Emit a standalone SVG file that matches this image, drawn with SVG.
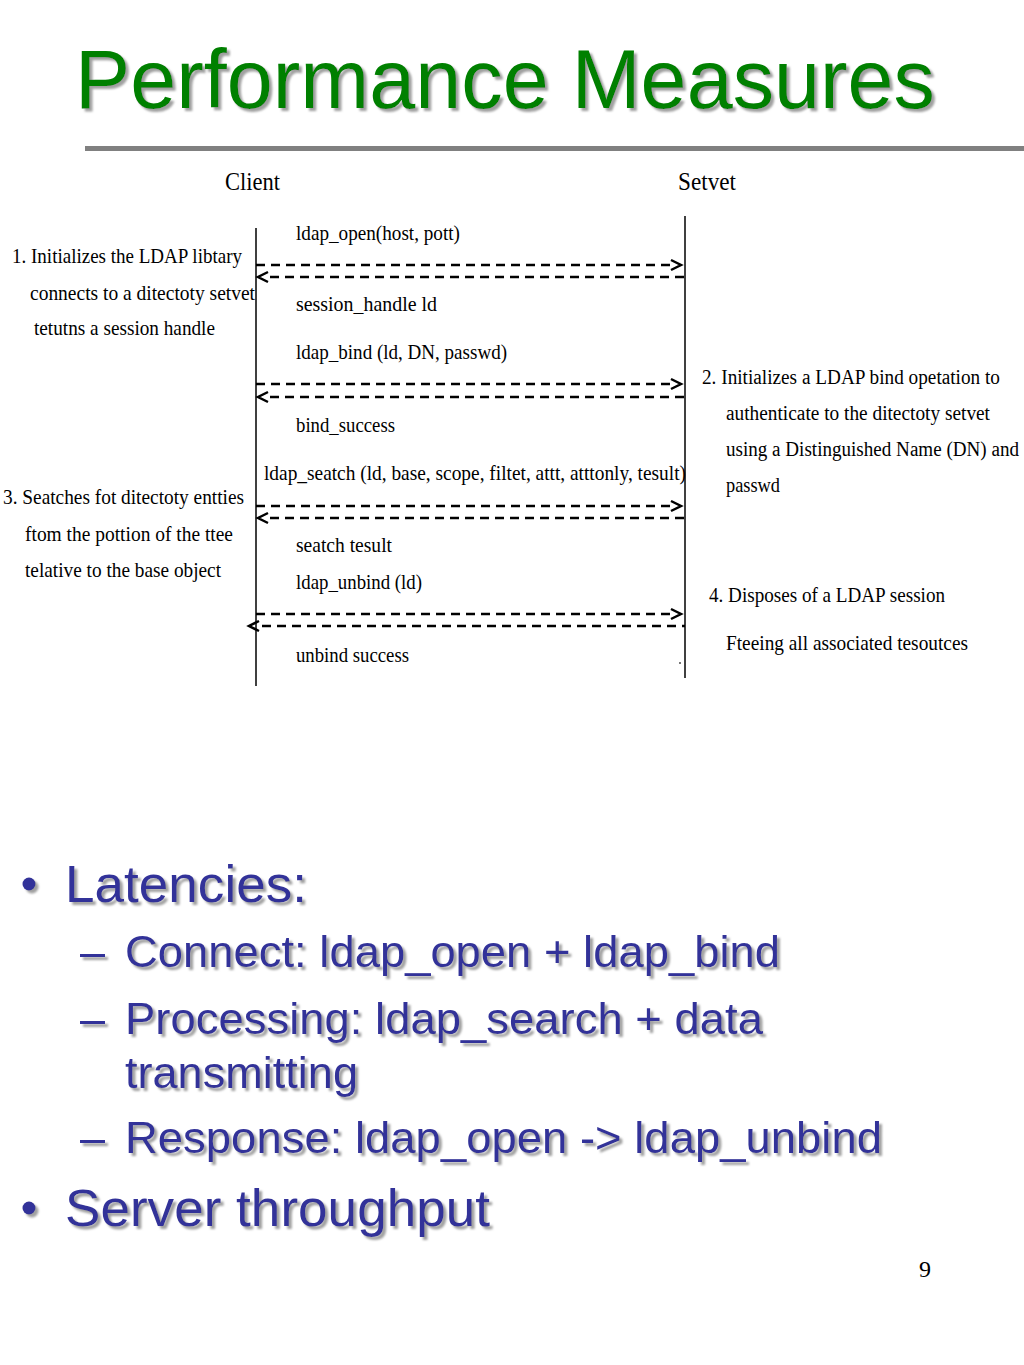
<svg xmlns="http://www.w3.org/2000/svg" width="1024" height="1365" viewBox="0 0 1024 1365">
<defs>
<filter id="sh" x="-5%" y="-20%" width="110%" height="140%">
<feDropShadow dx="3" dy="3" stdDeviation="0.8" flood-color="#a0a0a0" flood-opacity="1"/>
</filter>
</defs>
<style>
.title{font-family:"Liberation Sans",Arial,sans-serif;font-size:84px;fill:#008000}
.body{font-family:"Liberation Sans",Arial,sans-serif;fill:#333399}
.b1{font-size:52px}
.b2{font-size:45px}
.d{font-family:"Liberation Serif","Times New Roman",serif;font-size:22px;fill:#000}
.d.s{font-size:18px}
.d.xs{font-size:15px}
.d.h{font-size:25px}
.life{stroke:#000;stroke-width:1.5;fill:none}
.msg{stroke:#000;stroke-width:2.5;stroke-dasharray:9 6;fill:none}
.ah{stroke:#000;stroke-width:2.5;fill:none}
.pg{font-family:"Liberation Serif","Times New Roman",serif;font-size:24px;fill:#000}
</style>
<rect width="1024" height="1365" fill="#fff"/>
<g id="title" filter="url(#sh)">
<text class="title" x="75" y="108" textLength="860" lengthAdjust="spacingAndGlyphs">Performance Measures</text>
</g>
<rect x="85" y="146" width="939" height="5" fill="#808080"/>

<g id="client">
<text class="d h" x="225" y="190" textLength="55" lengthAdjust="spacingAndGlyphs">Client</text>
<line class="life" x1="256" y1="228" x2="256" y2="686"/>
</g>
<g id="server">
<text class="d h" x="678" y="190" textLength="58" lengthAdjust="spacingAndGlyphs">Setvet</text>
<line class="life" x1="685" y1="216" x2="685" y2="678"/>
</g>

<g id="connectors">
<line class="msg" x1="256" y1="265" x2="672" y2="265"/>
<polyline class="ah" points="671,260 681,265 671,270"/>
<line class="msg" x1="270" y1="277" x2="685" y2="277"/>
<polyline class="ah" points="268,272 258,277 268,282"/>

<line class="msg" x1="256" y1="384" x2="672" y2="384"/>
<polyline class="ah" points="671,379 681,384 671,389"/>
<line class="msg" x1="270" y1="397" x2="685" y2="397"/>
<polyline class="ah" points="268,392 258,397 268,402"/>

<line class="msg" x1="256" y1="506" x2="672" y2="506"/>
<polyline class="ah" points="671,501 681,506 671,511"/>
<line class="msg" x1="270" y1="518" x2="685" y2="518"/>
<polyline class="ah" points="268,513 258,518 268,523"/>

<line class="msg" x1="256" y1="614" x2="672" y2="614"/>
<polyline class="ah" points="671,609 681,614 671,619"/>
<line class="msg" x1="262" y1="626" x2="685" y2="626"/>
<polyline class="ah" points="259,621 249,626 259,631"/>
</g>

<g id="messages">
<text class="d" x="296" y="240" textLength="164" lengthAdjust="spacingAndGlyphs">ldap_open(host, pott)</text>
<text class="d" x="296" y="311" textLength="141" lengthAdjust="spacingAndGlyphs">session_handle  ld</text>
<text class="d" x="296" y="359" textLength="211" lengthAdjust="spacingAndGlyphs">ldap_bind (ld, DN, passwd)</text>
<text class="d" x="296" y="432" textLength="99" lengthAdjust="spacingAndGlyphs">bind_success</text>
<text class="d xs" x="264" y="480" textLength="422" lengthAdjust="spacingAndGlyphs" transform="translate(264 480) scale(1 1.4) translate(-264 -480)">ldap_seatch (ld, base, scope, filtet, attt, atttonly, tesult)</text>
<text class="d" x="296" y="552" textLength="96" lengthAdjust="spacingAndGlyphs">seatch tesult</text>
<text class="d" x="296" y="589" textLength="126" lengthAdjust="spacingAndGlyphs">ldap_unbind (ld)</text>
<text class="d" x="296" y="662" textLength="113" lengthAdjust="spacingAndGlyphs">unbind success</text>
<rect x="679" y="662" width="2" height="2" fill="#777"/>
</g>

<g id="note1">
<text class="d" x="12" y="263" textLength="230" lengthAdjust="spacingAndGlyphs">1. Initializes the LDAP libtary</text>
<text class="d" x="30" y="300" textLength="225" lengthAdjust="spacingAndGlyphs">connects to a ditectoty setvet</text>
<text class="d" x="34" y="335" textLength="181" lengthAdjust="spacingAndGlyphs">tetutns a session handle</text>
</g>
<g id="note3">
<text class="d" x="3" y="504" textLength="241" lengthAdjust="spacingAndGlyphs">3. Seatches fot ditectoty entties</text>
<text class="d" x="25" y="541" textLength="208" lengthAdjust="spacingAndGlyphs">ftom the pottion of the ttee</text>
<text class="d" x="25" y="577" textLength="196" lengthAdjust="spacingAndGlyphs">telative to the base object</text>
</g>
<g id="note2">
<text class="d s" x="702" y="384" textLength="298" lengthAdjust="spacingAndGlyphs" transform="translate(702 384) scale(1 1.2) translate(-702 -384)">2. Initializes a LDAP bind opetation to</text>
<text class="d s" x="726" y="420" textLength="264" lengthAdjust="spacingAndGlyphs" transform="translate(726 420) scale(1 1.2) translate(-726 -420)">authenticate to the ditectoty setvet</text>
<text class="d s" x="726" y="456" textLength="293" lengthAdjust="spacingAndGlyphs" transform="translate(726 456) scale(1 1.2) translate(-726 -456)">using a Distinguished Name (DN) and</text>
<text class="d" x="726" y="492" textLength="54" lengthAdjust="spacingAndGlyphs">passwd</text>
</g>
<g id="note4">
<text class="d" x="709" y="602" textLength="236" lengthAdjust="spacingAndGlyphs">4. Disposes of a LDAP session</text>
<text class="d" x="726" y="650" textLength="242" lengthAdjust="spacingAndGlyphs">Fteeing all associated tesoutces</text>
</g>

<g id="bullets" filter="url(#sh)">
<circle cx="29" cy="884" r="6.5" fill="#333399"/>
<text class="body b1" x="65" y="902" textLength="242" lengthAdjust="spacingAndGlyphs">Latencies:</text>
<text class="body b2" x="80" y="967">–</text>
<text class="body b2" x="125" y="967" textLength="655" lengthAdjust="spacingAndGlyphs">Connect: ldap_open + ldap_bind</text>
<text class="body b2" x="80" y="1034">–</text>
<text class="body b2" x="125" y="1034" textLength="638" lengthAdjust="spacingAndGlyphs">Processing: ldap_search + data</text>
<text class="body b2" x="125" y="1088" textLength="233" lengthAdjust="spacingAndGlyphs">transmitting</text>
<text class="body b2" x="80" y="1153">–</text>
<text class="body b2" x="125" y="1153" textLength="757" lengthAdjust="spacingAndGlyphs">Response: ldap_open -&gt; ldap_unbind</text>
<circle cx="29" cy="1208" r="6.5" fill="#333399"/>
<text class="body b1" x="65" y="1226" textLength="425" lengthAdjust="spacingAndGlyphs">Server throughput</text>
</g>
<text class="pg" x="919" y="1277">9</text>
</svg>
